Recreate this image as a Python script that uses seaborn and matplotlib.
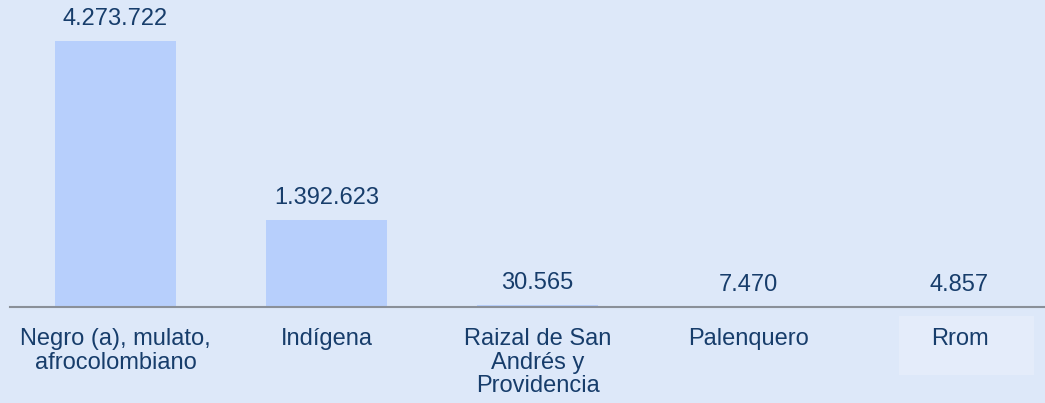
import matplotlib
matplotlib.use('Agg')
import matplotlib.pyplot as plt
from matplotlib.patches import Rectangle
import seaborn as sns
import pandas as pd

# ── DATA ──────────────────────────────────────────────────────────────
categories = ["Negro (a), mulato,\nafrocolombiano", "Indígena",
              "Raizal de San\nAndrés y\nProvidencia", "Palenquero", "Rrom"]
values = [4273722, 1392623, 30565, 7470, 4857]
value_labels = ["4.273.722", "1.392.623", "30.565", "7.470", "4.857"]

# ── STYLE ─────────────────────────────────────────────────────────────
BG       = "#dde8f9"
BAR      = "#b7cffc"
TEXT     = "#173d6b"
AXISLINE = "#8a9099"
FS       = 17

sns.set_theme(style="white")
plt.rcParams['font.family'] = ['Liberation Sans', 'DejaVu Sans']

df = pd.DataFrame({"cat": categories, "val": values})

fig = plt.figure(figsize=(10.45, 4.03), dpi=100, facecolor=BG)
ax = fig.add_axes([10 / 1045, 96 / 403, 1035 / 1045, 307 / 403])
ax.set_facecolor(BG)

sns.barplot(data=df, x="cat", y="val", color=BAR, width=0.573,
            saturation=1, linewidth=0, ax=ax)

# light box behind the last label (as in the source slide)
ax.add_patch(Rectangle((899 / 1045, (403 - 375) / 403), 135 / 1045, 59 / 403,
                       transform=fig.transFigure, facecolor="#e4ecfa",
                       edgecolor="none", clip_on=False, zorder=0.5))

ax.set_xlim(-0.5, 4.405)
ax.set_ylim(0, 4932000)

for i, (v, lab) in enumerate(zip(values, value_labels)):
    ax.annotate(lab, (i, v), xytext=(0, 11.5), textcoords="offset points",
                ha="center", va="baseline", fontsize=FS, color=TEXT)

ax.set_xlabel(""); ax.set_ylabel("")
ax.set_yticks([])
ax.tick_params(axis='x', length=0, pad=15, labelsize=FS, labelcolor=TEXT)
for t in ax.get_xticklabels():
    t.set_linespacing(1.1)
    t.set_va("top")

for s in ["top", "left", "right"]:
    ax.spines[s].set_visible(False)
ax.spines["bottom"].set_color(AXISLINE)
ax.spines["bottom"].set_linewidth(1.5)

fig.savefig("out.png", dpi=100, facecolor=BG)
